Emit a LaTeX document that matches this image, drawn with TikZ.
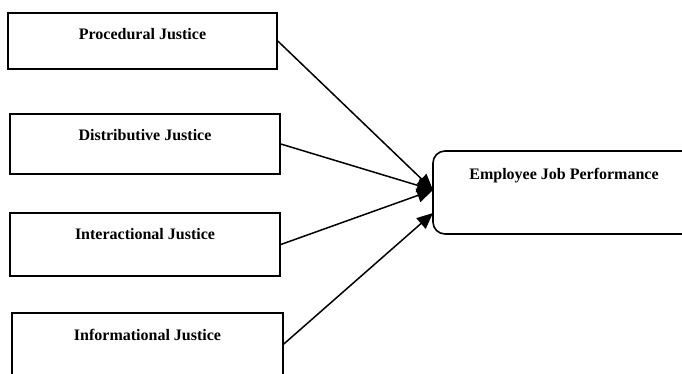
\documentclass[tikz,border=0pt]{standalone}
\usepackage{fontspec}
\setmainfont{Liberation Serif}
\usetikzlibrary{arrows.meta}
\begin{document}
\begin{tikzpicture}[x=1pt,y=-1pt,
  srcbox/.style={draw,line width=1.6pt,inner sep=0pt},
  lbl/.style={font=\fontsize{16}{19}\selectfont\bfseries,inner sep=0pt},
  conn/.style={line width=1.5pt,-{Triangle[length=16pt,width=14pt]}}]
\useasboundingbox (0,0) rectangle (682,373);
\clip (0,0) rectangle (682,373);
\node[srcbox,minimum width=269pt,minimum height=56pt] (b1) at (142.5,41) {};
\node[srcbox,minimum width=270pt,minimum height=60pt] (b2) at (145,144) {};
\node[srcbox,minimum width=270pt,minimum height=63pt] (b3) at (145,244.5) {};
\node[srcbox,minimum width=271pt,minimum height=62pt] (b4) at (147.5,344) {};
\node[srcbox,rounded corners=12pt,minimum width=263pt,minimum height=83pt] (emp) at (564.5,192.5) {};
\node[lbl] (t1) at (142.5,34) {Procedural Justice};
\node[lbl] (t2) at (145,135) {Distributive Justice};
\node[lbl] (t3) at (145,234) {Interactional Justice};
\node[lbl] (t4) at (147.5,335) {Informational Justice};
\node[lbl] (t5) at (564,176) {Employee Job Performance};
\coordinate (tA) at (433,190);
\coordinate (tB) at (433,213);
\draw[conn] (b1.east) -- (tA);
\draw[conn] (b2.east) -- (tA);
\draw[conn] (b3.east) -- (tA);
\draw[conn] (b4.east) -- (tB);
\end{tikzpicture}
\end{document}
